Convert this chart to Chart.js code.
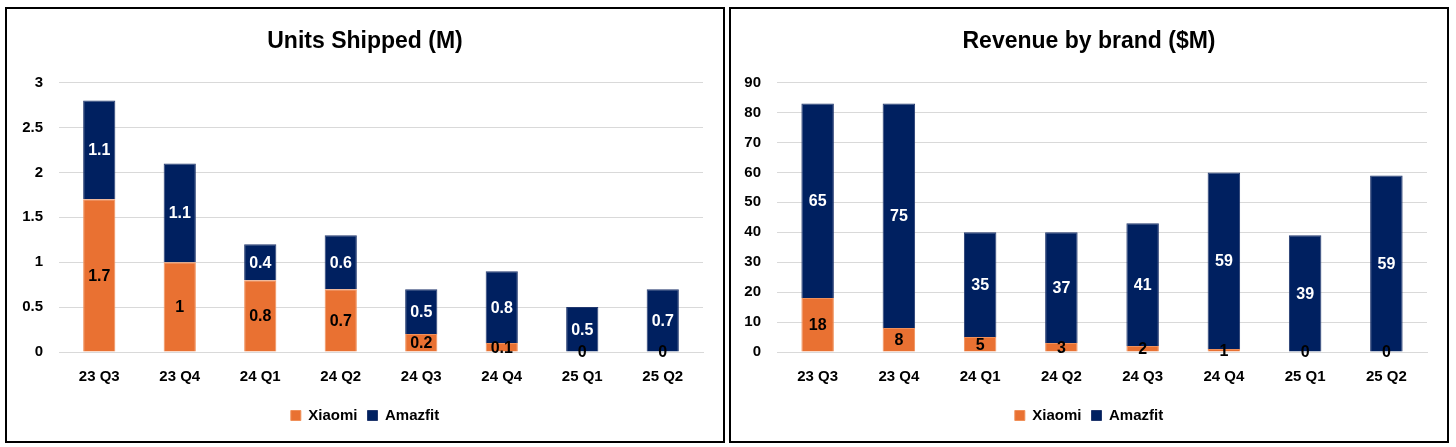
<!DOCTYPE html>
<html>
<head>
<meta charset="utf-8">
<script src="https://cdn.jsdelivr.net/npm/chart.js@4.4.1/dist/chart.umd.min.js"></script>
<style>
  html, body { margin: 0; padding: 0; background: #ffffff; }
  body { width: 1456px; height: 447px; position: relative; overflow: hidden; }
  .box { position: absolute; top: 7px; width: 720px; height: 436px; box-sizing: border-box; border: 2px solid #000; background: #fff; }
  #boxL { left: 5px; }
  #boxR { left: 729px; }
  canvas { display: block; }
</style>
</head>
<body>
<div class="box" id="boxL"><canvas id="units" width="716" height="432"></canvas></div>
<div class="box" id="boxR"><canvas id="revenue" width="716" height="432"></canvas></div>
<script>
const categories = ['23 Q3', '23 Q4', '24 Q1', '24 Q2', '24 Q3', '24 Q4', '25 Q1', '25 Q2'];
const unitsXiaomi = [1.7, 1, 0.8, 0.7, 0.2, 0.1, 0, 0];
const unitsAmazfit = [1.1, 1.1, 0.4, 0.6, 0.5, 0.8, 0.5, 0.7];
const revenueXiaomi = [18, 8, 5, 3, 2, 1, 0, 0];
const revenueAmazfit = [65, 75, 35, 37, 41, 59, 39, 59];
const seriesNames = ['Xiaomi', 'Amazfit'];

const ORANGE = '#E97132';
const NAVY = '#002060';
const FONT = '"Liberation Sans", Arial, sans-serif';

const segmentLabels = {
  id: 'segmentLabels',
  afterDatasetsDraw(chart) {
    const ctx = chart.ctx;
    chart.data.datasets.forEach((ds, i) => {
      const meta = chart.getDatasetMeta(i);
      meta.data.forEach((bar, j) => {
        const v = ds.data[j];
        const p = bar.getProps(['x', 'y', 'base'], true);
        ctx.save();
        ctx.font = 'bold 16px ' + FONT;
        ctx.fillStyle = ds.labelColor;
        ctx.textAlign = 'center';
        ctx.textBaseline = 'middle';
        ctx.fillText(String(v), p.x, (p.y + p.base) / 2 + 1);
        ctx.restore();
      });
    });
  }
};

function makeChart(id, title, xiaomi, amazfit, maxY, step, yWidth) {
  return new Chart(document.getElementById(id), {
    type: 'bar',
    data: {
      labels: categories,
      datasets: [
        { label: seriesNames[0], data: xiaomi, backgroundColor: ORANGE, borderColor: '#F0905A', borderWidth: 1, labelColor: '#000000',
          categoryPercentage: 1, barPercentage: 0.4 },
        { label: seriesNames[1], data: amazfit, backgroundColor: NAVY, borderColor: '#22386E', borderWidth: 1, labelColor: '#ffffff',
          categoryPercentage: 1, barPercentage: 0.4 }
      ]
    },
    options: {
      responsive: false,
      animation: false,
      devicePixelRatio: 1,
      layout: { padding: { left: 0, right: 0, top: 0, bottom: 8 } },
      plugins: {
        title: {
          display: true, text: title, color: '#000',
          font: { family: FONT, size: 23, weight: 'bold' },
          padding: { top: 19, bottom: 27 }
        },
        legend: {
          display: true, position: 'bottom',
          labels: {
            color: '#000', boxWidth: 10, boxHeight: 10, padding: 10,
            font: { family: FONT, size: 15, weight: 'bold' }
          }
        },
        tooltip: { enabled: false }
      },
      scales: {
        x: {
          stacked: true,
          grid: { display: false, drawTicks: false },
          border: { display: true, color: '#d9d9d9', width: 1 },
          ticks: { color: '#000', font: { family: FONT, size: 15, weight: 'bold' }, padding: 16, maxRotation: 0 },
          afterFit(scale) { scale.height = 46; }
        },
        y: {
          stacked: true, min: 0, max: maxY,
          grid: { color: '#d9d9d9', lineWidth: 1, drawTicks: false },
          border: { display: false },
          ticks: { stepSize: step, color: '#000', font: { family: FONT, size: 15, weight: 'bold' }, padding: 16,
                   callback: (value) => String(value) },
          afterFit(scale) { scale.width = yWidth; }
        },
        spacer: {
          type: 'linear', position: 'right', display: true, min: 0, max: maxY,
          grid: { display: false, drawTicks: false },
          border: { display: false },
          ticks: { display: false },
          afterFit(scale) { scale.width = 20; }
        }
      }
    },
    plugins: [segmentLabels]
  });
}

makeChart('units', 'Units Shipped (M)', unitsXiaomi, unitsAmazfit, 3, 0.5, 52);
makeChart('revenue', 'Revenue by brand ($M)', revenueXiaomi, revenueAmazfit, 90, 10, 46);
</script>
</body>
</html>
